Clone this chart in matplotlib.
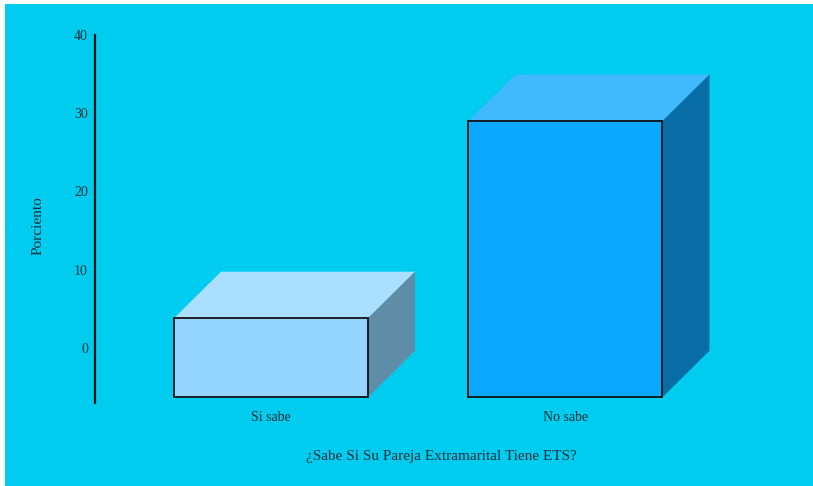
import matplotlib.pyplot as plt
from matplotlib.patches import Polygon, Rectangle

plt.rcParams['font.family'] = ['Liberation Serif', 'DejaVu Serif']

# survey answers
categories = ['Si sabe', 'No sabe']
values = [3.8, 29.0]          # bar tops on the percent axis
base = -6.3                   # bars start below the zero line
yticks = [0, 10, 20, 30, 40]

front_colors = ['#93D5FF', '#0BA8FF']
top_colors = ['#AADFFF', '#40B9FF']
side_colors = ['#5F8DA8', '#086DA5']
bg = '#00CCF0'
txt = '#14303a'

W, H = 813, 486
fig = plt.figure(figsize=(W / 100, H / 100), dpi=100, facecolor='white')
fig.patches.append(Rectangle((5 / W, 0), 1 - 5 / W, 1 - 4 / H,
                             transform=fig.transFigure, facecolor=bg,
                             edgecolor='none', zorder=-10))

ax = fig.add_axes([95 / W, (H - 403) / H, (770 - 95) / W, 368 / H])
ax.set_facecolor('none')
ax.set_xlim(-0.5976, 1.695)
ax.set_ylim(-7.03, 40)

width = 0.659
dx, dy = 0.16, 5.95   # depth of the 3d box
for i, (v, fc, tc, sc) in enumerate(zip(values, front_colors, top_colors, side_colors)):
    x0, x1 = i - width / 2, i + width / 2
    ax.add_patch(Polygon([(x0, v), (x1, v), (x1 + dx, v + dy), (x0 + dx, v + dy)],
                         closed=True, facecolor=tc, edgecolor='none', zorder=2))
    ax.add_patch(Polygon([(x1, base), (x1 + dx, base + dy), (x1 + dx, v + dy), (x1, v)],
                         closed=True, facecolor=sc, edgecolor='none', zorder=2))
    ax.bar(i, v - base, width=width, bottom=base, color=fc,
           edgecolor='#111111', linewidth=1.3, zorder=3)

for s in ['top', 'right', 'bottom']:
    ax.spines[s].set_visible(False)
ax.spines['left'].set_color('#111111')
ax.spines['left'].set_linewidth(1.6)

ax.set_yticks(yticks)
ax.set_yticklabels([str(t) for t in yticks], fontsize=10, color=txt)
ax.tick_params(axis='y', length=0, pad=5)
ax.set_xticks(range(len(categories)))
ax.set_xticklabels(categories, fontsize=10, color=txt)
ax.tick_params(axis='x', length=0, pad=6)

ax.set_ylabel('Porciento', fontsize=11, color=txt)
ax.yaxis.set_label_coords(-(95 - 45) / (770 - 95), (403 - 226) / 368)
ax.set_xlabel('¿Sabe Si Su Pareja Extramarital Tiene ETS?', fontsize=11, color=txt)
ax.xaxis.set_label_coords((441 - 95) / (770 - 95), -(450 - 403) / 368)

fig.savefig('out.png', dpi=100, facecolor='white')
